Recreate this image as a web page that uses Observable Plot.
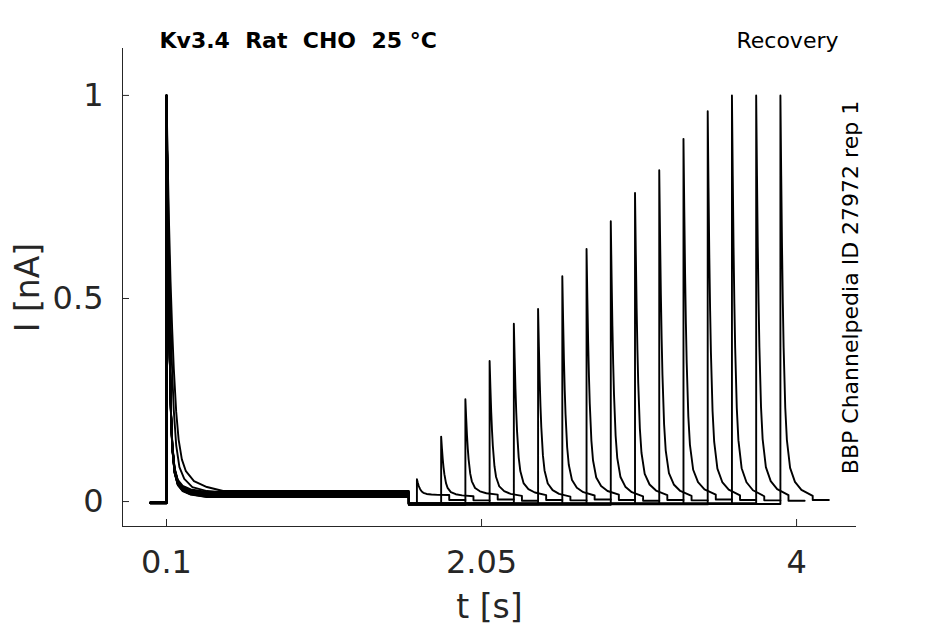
<!DOCTYPE html>
<html>
<head>
<meta charset="utf-8">
<script src="https://cdn.jsdelivr.net/npm/d3@7"></script>
<script src="https://cdn.jsdelivr.net/npm/@observablehq/plot@0.6"></script>
<style>
  html, body { margin: 0; padding: 0; background: #fff; }
  svg { font-family: "DejaVu Sans", sans-serif; }
</style>
</head>
<body>
<div id="chart"></div>
<script>
// ---- tick labels ----
const xTicks = [0.1, 2.05, 4];
const xTickLabels = ["0.1", "2.05", "4"];
const yTicks = [0, 0.5, 1];
const yTickLabels = ["0", "0.5", "1"];

// ---- sweeps (recovery protocol) ----
const sweepIds     = [0, 1, 2, 3, 4, 5, 6, 7, 8, 9, 10, 11, 12, 13, 14, 15];
const firstOnset   = 0.1;     // s
const firstOffset  = 1.6;     // s
const sweepStart   = 0.0;     // s
const firstPeaks   = [1.0, 0.99, 1.0, 0.99, 1.0, 1.0, 0.99, 1.0, 1.0, 0.99, 1.0, 1.0, 0.99, 1.0, 1.0, 1.0];
const firstPlateau = [0.026, 0.022, 0.018, 0.014, 0.021, 0.011, 0.019, 0.016, 0.024, 0.012, 0.017, 0.014, 0.022, 0.016, 0.013, 0.02];
const decayKind    = ["slow", "medium", "fast", "fast", "fast", "fast", "fast", "fast", "fast", "fast", "fast", "fast", "fast", "fast", "fast", "fast"];
const testOnsets   = [1.65, 1.80, 1.95, 2.10, 2.25, 2.40, 2.55, 2.70, 2.85, 3.00, 3.15, 3.30, 3.45, 3.60, 3.75, 3.90];
const testPeaks    = [0.055, 0.160, 0.252, 0.346, 0.438, 0.474, 0.555, 0.622, 0.690, 0.760, 0.816, 0.893, 0.961, 1.0, 1.0, 1.0];
const testPlateau  = [0.016, 0.013, 0.017, 0.014, 0.016, 0.012, 0.015, 0.017, 0.013, 0.016, 0.014, 0.017, 0.015, 0.013, 0.016, 0.014];
const testDuration = 0.2;     // s
const tailDuration = 0.1;     // s
const preLevel     = [-0.003, -0.002, -0.004, -0.003, -0.002, -0.003, -0.004, -0.002, -0.003, -0.003, -0.002, -0.004, -0.003, -0.002, -0.003, -0.004];
const gapLevel     = [-0.006, -0.005, -0.008, -0.006, -0.004, -0.007, -0.006, -0.005, -0.008, -0.006, -0.005, -0.006, -0.007, -0.006, -0.004, -0.006];
const afterLevel   = [0.004, 0.003, 0.005, 0.002, 0.004, 0.003, 0.005, 0.004, 0.002, 0.004, 0.003, 0.005, 0.004, 0.003, 0.002, 0.004];

// decay shapes: [time after peak (s), fraction of peak above plateau]
const fastDecay = [[0, 1], [0.004, 0.84], [0.008, 0.68], [0.012, 0.56], [0.016, 0.45], [0.022, 0.31], [0.028, 0.2], [0.036, 0.12], [0.05, 0.06], [0.07, 0.03], [0.1, 0.015], [0.15, 0.006], [0.25, 0]];
const mediumDecay = [[0, 1], [0.006, 0.84], [0.012, 0.69], [0.018, 0.56], [0.025, 0.44], [0.035, 0.31], [0.045, 0.21], [0.06, 0.12], [0.08, 0.065], [0.11, 0.035], [0.16, 0.014], [0.25, 0.004], [0.35, 0]];
const slowDecay = [[0, 1], [0.008, 0.82], [0.016, 0.67], [0.025, 0.53], [0.035, 0.41], [0.045, 0.31], [0.06, 0.2], [0.075, 0.13], [0.095, 0.08], [0.12, 0.05], [0.17, 0.025], [0.25, 0.01], [0.35, 0]];
const testDecay = [[0, 1], [0.005, 0.8], [0.01, 0.62], [0.015, 0.48], [0.02, 0.37], [0.03, 0.22], [0.04, 0.14], [0.06, 0.07], [0.09, 0.035], [0.13, 0.015], [0.2, 0.005]];

const shapes = {fast: fastDecay, medium: mediumDecay, slow: slowDecay};

// build the trace table from the arrays above
const traces = [];
for (const k of sweepIds) {
  const push = (t, i) => traces.push({sweep: k, t, i});
  push(sweepStart, preLevel[k]);
  push(firstOnset, preLevel[k]);
  for (const [dt, f] of shapes[decayKind[k]]) {
    push(firstOnset + dt, firstPlateau[k] + (firstPeaks[k] - firstPlateau[k]) * f);
  }
  push(firstOffset, firstPlateau[k]);
  push(firstOffset, gapLevel[k]);
  const T = testOnsets[k];
  push(T, gapLevel[k]);
  for (const [dt, f] of testDecay) {
    if (dt < testDuration) push(T + dt, testPlateau[k] + (testPeaks[k] - testPlateau[k]) * f);
  }
  push(T + testDuration, testPlateau[k]);
  push(T + testDuration, afterLevel[k]);
  push(T + testDuration + tailDuration, afterLevel[k]);
}

const xDomain = [-0.1724, 4.371];
const yDomain = [-0.0614, 1.1155];
const axisColor = "#262626";

const chart = Plot.plot({
  width: 945,
  height: 624,
  marginLeft: 122,
  marginRight: 89,
  marginTop: 48,
  marginBottom: 98,
  x: {domain: xDomain, axis: null},
  y: {domain: yDomain, axis: null},
  style: {fontFamily: "DejaVu Sans, sans-serif", background: "#fff"},
  marks: [
    // axis lines
    Plot.ruleY([yDomain[0]], {stroke: axisColor, strokeWidth: 1}),
    Plot.ruleX([xDomain[0]], {stroke: axisColor, strokeWidth: 1}),
    // inward ticks
    Plot.ruleX(xTicks, {x: d => d, y1: yDomain[0], y2: yDomain[0] + 7 / 407, stroke: axisColor}),
    Plot.ruleY(yTicks, {y: d => d, x1: xDomain[0], x2: xDomain[0] + 7 / 161.54, stroke: axisColor}),
    // tick labels
    Plot.text(xTicks, {x: d => d, text: (d, i) => xTickLabels[i], frameAnchor: "bottom", dy: 46, lineAnchor: "bottom", textAnchor: "middle", fontSize: 32, fill: axisColor}),
    Plot.text(yTicks, {y: d => d, text: (d, i) => yTickLabels[i], frameAnchor: "left", dx: -19, textAnchor: "end", lineAnchor: "middle", fontSize: 32, fill: axisColor}),
    // axis labels
    Plot.text(["t [s]"], {frameAnchor: "bottom", dy: 91, lineAnchor: "bottom", textAnchor: "middle", fontSize: 33, fill: axisColor}),
    Plot.text(["I [nA]"], {frameAnchor: "left", dx: -94, rotate: -90, lineAnchor: "middle", textAnchor: "middle", fontSize: 33, fill: axisColor}),
    // traces
    Plot.line(traces, {x: "t", y: "i", z: "sweep", stroke: "black", strokeWidth: 1.9, curve: "linear"}),
    // annotations
    Plot.text(["Kv3.4\u00a0\u00a0Rat\u00a0\u00a0CHO\u00a0\u00a025 °C"], {frameAnchor: "top-left", dx: 37, dy: -1, lineAnchor: "bottom", textAnchor: "start", fontSize: 22, fontWeight: "bold", fill: "black"}),
    Plot.text(["Recovery"], {frameAnchor: "top-right", dx: -18, dy: -1, lineAnchor: "bottom", textAnchor: "end", fontSize: 22, fill: "black"}),
    Plot.text(["BBP Channelpedia ID 27972 rep 1"], {frameAnchor: "right", dx: -6, rotate: -90, lineAnchor: "middle", textAnchor: "middle", fontSize: 22, fill: "black"})
  ]
});
document.getElementById("chart").appendChild(chart);
</script>
</body>
</html>
